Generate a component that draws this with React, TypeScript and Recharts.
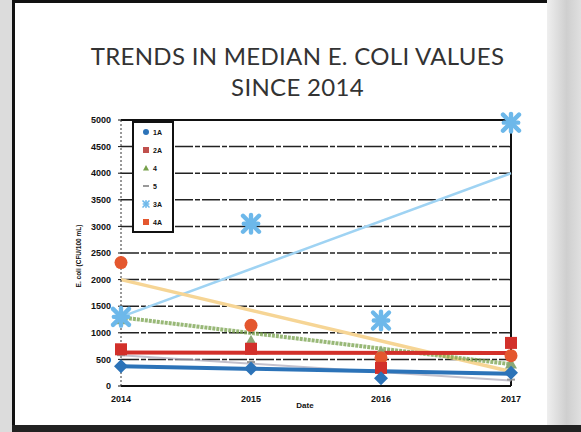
import React from "react";
import { ComposedChart, Line, XAxis, YAxis, CartesianGrid, ReferenceLine } from "recharts";

const years = [2014, 2015, 2016, 2017];
const yTicks = [0, 500, 1000, 1500, 2000, 2500, 3000, 3500, 4000, 4500, 5000];
const seriesNames = ["1A", "2A", "4", "5", "3A", "4A"];

const s1A = [370, 330, 145, 250];
const s2A = [690, 700, 340, 810];
const s4 = [1250, 850, 650, 420];
const s5 = [580, 450, 250, 120];
const s3A = [1300, 3050, 1230, 4950];
const s4A = [2320, 1140, 530, 570];

// trend line values read at 2014 and 2017
const t1A = [370, 230];
const t2A = [630, 620];
const t4 = [1290, 410];
const t5 = [580, 100];
const t3A = [1300, 4000];
const t4A = [2000, 270];

const trendAt = (t: number[], i: number) => (i === 0 ? t[0] : i === years.length - 1 ? t[1] : null);

const data = years.map((y, i) => ({
  year: y,
  s1A: s1A[i],
  s2A: s2A[i],
  s4: s4[i],
  s5: s5[i],
  s3A: s3A[i],
  s4A: s4A[i],
  t1A: trendAt(t1A, i),
  t2A: trendAt(t2A, i),
  t4: trendAt(t4, i),
  t5: trendAt(t5, i),
  t3A: trendAt(t3A, i),
  t4A: trendAt(t4A, i),
}));

const C1A = "#2C73B8";
const C2A = "#D2302A";
const C4 = "#76A04A";
const C5 = "#A9A6B8";
const C3A = "#6DB8EA";
const C4A = "#E4572E";

type Shape = "diamond" | "square" | "triangle" | "dash" | "star" | "circle";

const drawShape = (shape: Shape, cx: number, cy: number, color: string, s: number, key?: any) => {
  switch (shape) {
    case "diamond":
      return <path key={key} d={`M${cx},${cy - s}L${cx + s},${cy}L${cx},${cy + s}L${cx - s},${cy}Z`} fill={color} />;
    case "square":
      return <rect key={key} x={cx - s} y={cy - s} width={2 * s} height={2 * s} fill={color} />;
    case "triangle":
      return <path key={key} d={`M${cx},${cy - s}L${cx + s},${cy + s * 0.8}L${cx - s},${cy + s * 0.8}Z`} fill={color} />;
    case "dash":
      return <rect key={key} x={cx - s} y={cy - 1} width={2 * s} height={2} fill={color} />;
    case "circle":
      return <circle key={key} cx={cx} cy={cy} r={s} fill={color} />;
    case "star":
      return (
        <g key={key} stroke={color} strokeWidth={s * 0.55} strokeLinecap="round">
          <line x1={cx - s} y1={cy - s} x2={cx + s} y2={cy + s} />
          <line x1={cx - s} y1={cy + s} x2={cx + s} y2={cy - s} />
          <line x1={cx} y1={cy - s * 1.1} x2={cx} y2={cy + s * 1.1} />
          <line x1={cx - s * 0.9} y1={cy} x2={cx + s * 0.9} y2={cy} />
        </g>
      );
  }
};

const makeDot = (shape: Shape, color: string, s: number) => (props: any) => {
  const { cx, cy, index } = props;
  if (cx == null || cy == null || props.value == null) return <g key={index} />;
  return drawShape(shape, cx, cy, color, s, index);
};

const legendItems: { name: string; shape: Shape; color: string }[] = [
  { name: seriesNames[0], shape: "circle", color: C1A },
  { name: seriesNames[1], shape: "square", color: "#C0504D" },
  { name: seriesNames[2], shape: "triangle", color: C4 },
  { name: seriesNames[3], shape: "dash", color: "#999" },
  { name: seriesNames[4], shape: "star", color: C3A },
  { name: seriesNames[5], shape: "square", color: C4A },
];

const LegendBox = () => (
  <svg width={42} height={112} style={{ display: "block" }}>
    <rect x={1} y={1} width={40} height={110} fill="#fff" stroke="#111" strokeWidth={2} />
    {legendItems.map((it, i) => {
      const cy = 11 + i * 18;
      return (
        <g key={it.name}>
          {drawShape(it.shape, 14, cy, it.color, 3)}
          <text x={21} y={cy + 3} fontSize={7} fontWeight="bold" fontFamily="Liberation Sans, Arial" fill="#111">
            {it.name}
          </text>
        </g>
      );
    })}
  </svg>
);

const tickStyle = { fontSize: 9, fontWeight: 700, fill: "#111", fontFamily: "Liberation Sans, Arial" };

export default function App() {
  return (
    <div style={{ position: "absolute", left: 0, top: 0, width: 581, height: 432, overflow: "hidden", background: "#dcdcdc" }}>
      {/* scanned slide frame */}
      <div style={{ position: "absolute", left: 545, top: 0, width: 36, height: 432, background: "linear-gradient(90deg,#f2f2f2,#cfcfcf 60%,#e0e0e0)" }} />
      <div style={{ position: "absolute", left: 12, top: 0, width: 535, height: 427, background: "#fff", borderLeft: "3px solid #111", borderTop: "3px solid #111", boxSizing: "border-box" }} />
      <div style={{ position: "absolute", left: 12, top: 425, width: 569, height: 7, background: "#222" }} />
      <div
        style={{
          position: "absolute",
          left: 0,
          width: 595,
          top: 40,
          textAlign: "center",
          fontFamily: "Lato, 'Open Sans', sans-serif",
          fontSize: 24,
          lineHeight: "31px",
          color: "#333",
          letterSpacing: 0.3,
        }}
      >
        <div>TRENDS IN MEDIAN E. COLI VALUES</div>
        <div>SINCE 2014</div>
      </div>
      <div
        style={{
          position: "absolute",
          left: 78,
          top: 256,
          transform: "translate(-50%,-50%) rotate(-90deg)",
          whiteSpace: "nowrap",
          fontFamily: "Liberation Sans, Arial",
          fontWeight: 700,
          fontSize: 6.5,
          color: "#111",
        }}
      >
        E. coli (CFU/100 mL)
      </div>
      <div style={{ position: "absolute", left: 0, top: 0 }}>
        <ComposedChart width={581} height={432} data={data} margin={{ top: 120, right: 70, bottom: 16, left: 61 }}>
          <CartesianGrid vertical={false} stroke="#222" strokeWidth={1.5} strokeDasharray="18 2 5 2" />
          <XAxis
            dataKey="year"
            type="number"
            domain={[2014, 2017]}
            ticks={years}
            height={30}
            tick={tickStyle}
            tickLine={false}
            axisLine={{ stroke: "#111", strokeWidth: 2 }}
            tickMargin={4}
            label={{ value: "Date", position: "insideBottom", offset: 8, dx: -11, style: { ...tickStyle, fontSize: 8 } }}
          />
          <YAxis
            type="number"
            domain={[0, 5000]}
            ticks={yTicks}
            width={60}
            tick={tickStyle}
            tickLine={{ stroke: "#111" }}
            tickSize={3}
            tickMargin={7}
            axisLine={{ stroke: "#333", strokeWidth: 1, strokeDasharray: "2 2" }}
          />
          <ReferenceLine x={2017} stroke="#111" strokeWidth={2} />
          <ReferenceLine y={5000} stroke="#111" strokeWidth={2} />
          {/* trend lines */}
          <Line dataKey="t5" stroke={C5} strokeWidth={2} strokeOpacity={0.7} dot={false} activeDot={false} connectNulls isAnimationActive={false} legendType="none" />
          <Line dataKey="t3A" stroke="#9FD3F3" strokeWidth={2.5} dot={false} activeDot={false} connectNulls isAnimationActive={false} legendType="none" />
          <Line dataKey="t4A" stroke="#F6D595" strokeWidth={3.5} dot={false} activeDot={false} connectNulls isAnimationActive={false} legendType="none" />
          <Line dataKey="t4" stroke={C4} strokeWidth={4} strokeOpacity={0.75} strokeDasharray="3 1" dot={false} activeDot={false} connectNulls isAnimationActive={false} legendType="none" />
          <Line dataKey="t2A" stroke={C2A} strokeWidth={4} dot={false} activeDot={false} connectNulls isAnimationActive={false} legendType="none" />
          <Line dataKey="t1A" stroke={C1A} strokeWidth={4} dot={false} activeDot={false} connectNulls isAnimationActive={false} legendType="none" />
          {/* markers */}
          <Line dataKey="s5" stroke="none" dot={makeDot("dash", "#999", 4)} activeDot={false} isAnimationActive={false} legendType="none" />
          <Line dataKey="s4" stroke="none" dot={makeDot("triangle", "#8AA877", 6)} activeDot={false} isAnimationActive={false} legendType="none" />
          <Line dataKey="s4A" stroke="none" dot={makeDot("circle", C4A, 6.5)} activeDot={false} isAnimationActive={false} legendType="none" />
          <Line dataKey="s2A" stroke="none" dot={makeDot("square", C2A, 6)} activeDot={false} isAnimationActive={false} legendType="none" />
          <Line dataKey="s1A" stroke="none" dot={makeDot("diamond", C1A, 7)} activeDot={false} isAnimationActive={false} legendType="none" />
          <Line dataKey="s3A" stroke="none" dot={makeDot("star", C3A, 8)} activeDot={false} isAnimationActive={false} legendType="none" />
        </ComposedChart>
      </div>
      <div style={{ position: "absolute", left: 132, top: 121 }}>
        <LegendBox />
      </div>
    </div>
  );
}
